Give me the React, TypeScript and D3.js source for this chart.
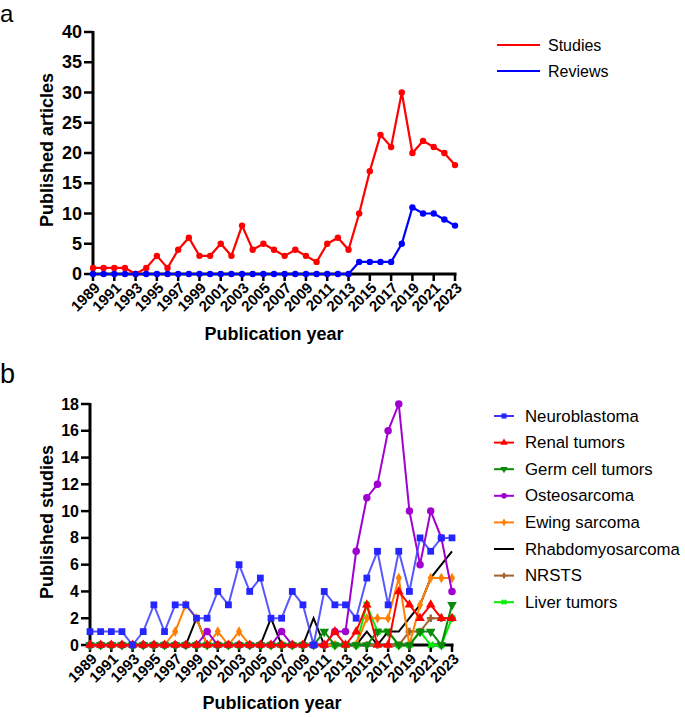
import React from "react";
import * as d3 from "d3";

const years = [1989,1990,1991,1992,1993,1994,1995,1996,1997,1998,1999,2000,2001,2002,2003,2004,2005,2006,2007,2008,2009,2010,2011,2012,2013,2014,2015,2016,2017,2018,2019,2020,2021,2022,2023];
const yearLabels = [1989,1991,1993,1995,1997,1999,2001,2003,2005,2007,2009,2011,2013,2015,2017,2019,2021,2023];

const studies = [1,1,1,1,0,1,3,1,4,6,3,3,5,3,8,4,5,4,3,4,3,2,5,6,4,10,17,23,21,30,20,22,21,20,18];
const reviews = [0,0,0,0,0,0,0,0,0,0,0,0,0,0,0,0,0,0,0,0,0,0,0,0,0,2,2,2,2,5,11,10,10,9,8];
const aTicks = [0,5,10,15,20,25,30,35,40];

const neuroblastoma = [1,1,1,1,0,1,3,1,3,3,2,2,4,3,6,4,5,2,2,4,3,0,4,3,3,2,5,7,3,7,4,8,7,8,8];
const renal = [0,0,0,0,0,0,0,0,0,0,0,0,0,0,0,0,0,0,0,0,0,0,0,1,0,1,3,0,0,4,3,2,3,2,2];
const germCell = [0,0,0,0,0,0,0,0,0,0,0,0,0,0,0,0,0,0,0,0,0,0,1,0,0,0,0,1,1,0,0,1,1,0,3];
const osteosarcoma = [0,0,0,0,0,0,0,0,0,0,0,1,0,0,0,0,0,0,1,0,0,0,0,1,1,7,11,12,16,18,10,6,10,8,4];
const ewing = [0,0,0,0,0,0,0,0,1,3,2,0,1,0,1,0,0,0,0,0,0,0,0,0,0,0,2,2,2,5,0,3,5,5,5];
const rhabdo = [0,0,0,0,0,0,0,0,0,0,2,0,0,0,0,0,0,2,0,0,0,2,0,0,0,0,1,0,1,1,2,3,5,6,7];
const nrsts = [0,0,0,0,0,0,0,0,0,0,0,0,0,0,0,0,0,0,0,0,0,0,0,0,0,0,0,0,0,0,1,1,2,2,2];
const liver = [0,0,0,0,0,0,0,0,0,0,0,0,0,0,0,0,0,0,0,0,0,0,0,0,0,0,3,1,1,0,0,1,0,0,2];
const bTicks = [0,2,4,6,8,10,12,14,16,18];

const seriesB = [
  { name: "Neuroblastoma", values: neuroblastoma, color: "#3a3aff", marker: "square" },
  { name: "Renal tumors", values: renal, color: "#ff0000", marker: "triangle" },
  { name: "Germ cell tumors", values: germCell, color: "#0a8a0a", marker: "triangleDown" },
  { name: "Osteosarcoma", values: osteosarcoma, color: "#a000d0", marker: "circle" },
  { name: "Ewing sarcoma", values: ewing, color: "#ff8000", marker: "diamond" },
  { name: "Rhabdomyosarcoma", values: rhabdo, color: "#000000", marker: "none" },
  { name: "NRSTS", values: nrsts, color: "#a0642a", marker: "cross" },
  { name: "Liver tumors", values: liver, color: "#00ee00", marker: "times" },
];

const FONT = "'Liberation Sans', Arial, sans-serif";

function markerPath(kind: string): { d: string; rot: number } | null {
  switch (kind) {
    case "square": return { d: d3.symbol(d3.symbolSquare, 46)()!, rot: 0 };
    case "triangle": return { d: d3.symbol(d3.symbolTriangle, 40)()!, rot: 0 };
    case "triangleDown": return { d: d3.symbol(d3.symbolTriangle, 40)()!, rot: 180 };
    case "circle": return { d: d3.symbol(d3.symbolCircle, 44)()!, rot: 0 };
    case "diamond": return { d: d3.symbol(d3.symbolDiamond, 32)()!, rot: 0 };
    case "cross": return { d: d3.symbol(d3.symbolCross, 32)()!, rot: 0 };
    case "times": return { d: d3.symbol(d3.symbolCross, 36)()!, rot: 45 };
    default: return null;
  }
}

function XAxis({ x, y0 }: { x: d3.ScaleLinear<number, number>; y0: number }) {
  return (
    <g>
      <line x1={x(1989) - 1.5} x2={x(2023) + 1.5} y1={y0} y2={y0} stroke="#000" strokeWidth={3} />
      {yearLabels.map((yr) => (
        <g key={yr}>
          <line x1={x(yr)} x2={x(yr)} y1={y0} y2={y0 + 7} stroke="#000" strokeWidth={2.5} />
          <text
            transform={`translate(${x(yr) + 5},${y0 + 12}) rotate(-45)`}
            textAnchor="end"
            dominantBaseline="middle"
            fontFamily={FONT}
            fontWeight="bold"
            fontSize={15}
          >
            {yr}
          </text>
        </g>
      ))}
    </g>
  );
}

function YAxis({ y, x0, ticks, fontSize }: { y: d3.ScaleLinear<number, number>; x0: number; ticks: number[]; fontSize: number }) {
  const top = y(ticks[ticks.length - 1]);
  const bottom = y(ticks[0]);
  return (
    <g>
      <line x1={x0} x2={x0} y1={top - 1} y2={bottom + 1.5} stroke="#000" strokeWidth={3} />
      {ticks.map((t) => (
        <g key={t}>
          <line x1={x0 - 9} x2={x0} y1={y(t)} y2={y(t)} stroke="#000" strokeWidth={2.5} />
          <text x={x0 - 11} y={y(t)} textAnchor="end" dominantBaseline="central" fontFamily={FONT} fontWeight="bold" fontSize={fontSize}>
            {t}
          </text>
        </g>
      ))}
    </g>
  );
}

export default function App() {
  const xa = d3.scaleLinear().domain([1989, 2023]).range([93, 455]);
  const ya = d3.scaleLinear().domain([0, 40]).range([274, 32]);
  const xb = d3.scaleLinear().domain([1989, 2023]).range([90, 452]);
  const yb = d3.scaleLinear().domain([0, 18]).range([645, 404]);

  const lineA = (vals: number[]) =>
    d3.line<number>().x((_, i) => xa(years[i])).y((v) => ya(v))(vals)!;
  const lineB = (vals: number[]) =>
    d3.line<number>().x((_, i) => xb(years[i])).y((v) => yb(v))(vals)!;

  const seriesA = [
    { name: "Studies", values: studies, color: "#ff0000" },
    { name: "Reviews", values: reviews, color: "#0000ff" },
  ];

  const drawOrder = [...seriesB].reverse();

  return (
    <svg width={685} height={717} style={{ position: "absolute", left: 0, top: 0, display: "block" }}>
      <rect width={685} height={717} fill="#fff" />
      {/* Panel a */}
      <text x={0} y={22} fontFamily={FONT} fontSize={24}>a</text>
      <YAxis y={ya} x0={93} ticks={aTicks} fontSize={18} />
      <XAxis x={xa} y0={274} />
      <text transform={`translate(53,150) rotate(-90)`} textAnchor="middle" fontFamily={FONT} fontWeight="bold" fontSize={18}>
        Published articles
      </text>
      <text x={274} y={340} textAnchor="middle" fontFamily={FONT} fontWeight="bold" fontSize={18}>
        Publication year
      </text>
      {seriesA.map((s) => (
        <g key={s.name}>
          <path d={lineA(s.values)} fill="none" stroke={s.color} strokeWidth={2.2} />
          {s.values.map((v, i) => (
            <circle key={i} cx={xa(years[i])} cy={ya(v)} r={3.2} fill={s.color} />
          ))}
        </g>
      ))}
      {seriesA.map((s, i) => (
        <g key={s.name} transform={`translate(0,${45 + i * 26})`}>
          <line x1={497} x2={540} y1={0} y2={0} stroke={s.color} strokeWidth={2.2} />
          <text x={548} y={0} dominantBaseline="central" fontFamily={FONT} fontSize={16}>{s.name}</text>
        </g>
      ))}

      {/* Panel b */}
      <text x={0} y={383} fontFamily={FONT} fontSize={27}>b</text>
      <YAxis y={yb} x0={90} ticks={bTicks} fontSize={16} />
      <XAxis x={xb} y0={645} />
      <text transform={`translate(53,522) rotate(-90)`} textAnchor="middle" fontFamily={FONT} fontWeight="bold" fontSize={18}>
        Published studies
      </text>
      <text x={272} y={709} textAnchor="middle" fontFamily={FONT} fontWeight="bold" fontSize={18}>
        Publication year
      </text>
      {drawOrder.map((s) => {
        const m = markerPath(s.marker);
        return (
          <g key={s.name}>
            <path d={lineB(s.values)} fill="none" stroke={s.color} strokeWidth={2} strokeOpacity={s.marker === "square" ? 0.85 : 1} />
            {m &&
              s.values.map((v, i) => (
                <path key={i} d={m.d} fill={s.marker === "square" ? "#2525ff" : s.color} transform={`translate(${xb(years[i])},${yb(v)}) rotate(${m.rot})`} />
              ))}
          </g>
        );
      })}
      {seriesB.map((s, i) => {
        const m = markerPath(s.marker);
        const ly = 416 + i * 26.6;
        return (
          <g key={s.name} transform={`translate(0,${ly})`}>
            <line x1={494} x2={514} y1={0} y2={0} stroke={s.color} strokeWidth={2} />
            {m && <path d={m.d} fill={s.marker === "square" ? "#2525ff" : s.color} transform={`translate(504,0) rotate(${m.rot}) scale(0.75)`} />}
            <text x={525} y={0} dominantBaseline="central" fontFamily={FONT} fontSize={16.8}>{s.name}</text>
          </g>
        );
      })}
    </svg>
  );
}
